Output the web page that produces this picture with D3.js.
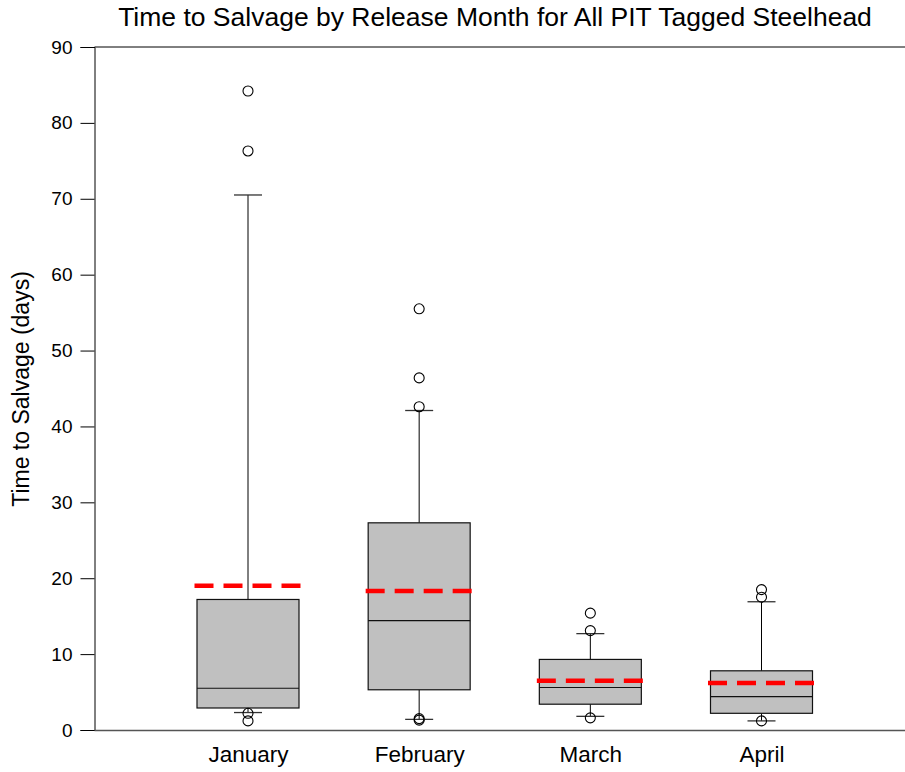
<!DOCTYPE html>
<html>
<head>
<meta charset="utf-8">
<script src="https://cdn.jsdelivr.net/npm/d3@7"></script>
<style>
  body { margin: 0; background: #fff; }
  svg { display: block; font-family: "Liberation Sans", Arial, sans-serif; }
</style>
</head>
<body>
<svg id="chart" width="905" height="772"></svg>
<script>
const categories = ["January", "February", "March", "April"];
const q1 =        [2.9, 5.3, 3.4, 2.2];
const median =    [5.5, 14.4, 5.6, 4.4];
const q3 =        [17.2, 27.3, 9.3, 7.8];
const whiskerLo = [2.3, 1.4, 1.8, 1.2];
const whiskerHi = [70.5, 42.1, 12.7, 16.9];
const means =     [19.0, 18.3, 6.5, 6.2];
const outliers = [
  [84.2, 76.3, 2.2, 1.2],
  [55.5, 46.4, 42.6, 1.5, 1.3],
  [15.4, 13.1, 1.6],
  [18.5, 17.5, 1.2]
];
const yTicks = [0, 10, 20, 30, 40, 50, 60, 70, 80, 90];

const svg = d3.select("#chart");
const mLeft = 94.5, mRight = 905, mTop = 47, mBottom = 730;

const x = d3.scalePoint().domain(categories).range([248, 761.5]);
const y = d3.scaleLinear().domain([0, 90]).range([mBottom, mTop]);

const boxW = 102, meanW = 107, capW = 28;

// Title
svg.append("text")
  .attr("x", 495).attr("y", 26)
  .attr("text-anchor", "middle")
  .attr("font-size", 26.5)
  .attr("fill", "#000")
  .text("Time to Salvage by Release Month for All PIT Tagged Steelhead");

// Frame top line
svg.append("line")
  .attr("x1", mLeft).attr("x2", mRight)
  .attr("y1", y(90)).attr("y2", y(90))
  .attr("stroke", "#000").attr("stroke-width", 1);

// Y axis
const yAxis = svg.append("g")
  .attr("transform", `translate(${mLeft},0)`)
  .call(d3.axisLeft(y).tickValues(yTicks).tickSize(14).tickPadding(8).tickFormat(d3.format("d")));
yAxis.select(".domain").attr("stroke", "#000");
yAxis.selectAll(".tick line").attr("stroke", "#000");
yAxis.selectAll("text").attr("font-size", 19).attr("fill", "#000")
  .attr("font-family", "'Liberation Sans', Arial, sans-serif");

// X axis
const xAxis = svg.append("g")
  .attr("transform", `translate(0,${mBottom})`)
  .call(d3.axisBottom(x).tickSize(0).tickPadding(16));
xAxis.select(".domain").attr("d", `M${mLeft},0.5H${mRight}`).attr("stroke", "#555").attr("stroke-width", 1.5);
xAxis.selectAll("text").attr("font-size", 22.5).attr("fill", "#000")
  .attr("font-family", "'Liberation Sans', Arial, sans-serif");

// Y label
svg.append("text")
  .attr("transform", `translate(29,389) rotate(-90)`)
  .attr("text-anchor", "middle")
  .attr("font-size", 23)
  .attr("fill", "#000")
  .text("Time to Salvage (days)");

const g = svg.append("g");
categories.forEach((c, i) => {
  const cx = x(c);
  g.append("line").attr("x1", cx).attr("x2", cx)
    .attr("y1", y(q3[i])).attr("y2", y(whiskerHi[i]))
    .attr("stroke", "#000").attr("stroke-width", 1);
  g.append("line").attr("x1", cx).attr("x2", cx)
    .attr("y1", y(q1[i])).attr("y2", y(whiskerLo[i]))
    .attr("stroke", "#000").attr("stroke-width", 1);
  [whiskerHi[i], whiskerLo[i]].forEach(v => {
    g.append("line").attr("x1", cx - capW / 2).attr("x2", cx + capW / 2)
      .attr("y1", y(v)).attr("y2", y(v))
      .attr("stroke", "#333").attr("stroke-width", 1.3);
  });
  g.append("rect")
    .attr("x", cx - boxW / 2).attr("width", boxW)
    .attr("y", y(q3[i])).attr("height", y(q1[i]) - y(q3[i]))
    .attr("fill", "#c0c0c0").attr("stroke", "#111").attr("stroke-width", 1.2);
  g.append("line").attr("x1", cx - boxW / 2).attr("x2", cx + boxW / 2)
    .attr("y1", y(median[i])).attr("y2", y(median[i]))
    .attr("stroke", "#111").attr("stroke-width", 1.2);
  g.append("line").attr("x1", cx - meanW / 2).attr("x2", cx + meanW / 2)
    .attr("y1", y(means[i])).attr("y2", y(means[i]))
    .attr("stroke", "#ff0000").attr("stroke-width", 4.5)
    .attr("stroke-dasharray", "19,10").attr("stroke-linecap", "butt");
  outliers[i].forEach(v => {
    g.append("circle").attr("cx", cx).attr("cy", y(v)).attr("r", 5)
      .attr("fill", "none").attr("stroke", "#000").attr("stroke-width", 1.1);
  });
});
</script>
</body>
</html>
